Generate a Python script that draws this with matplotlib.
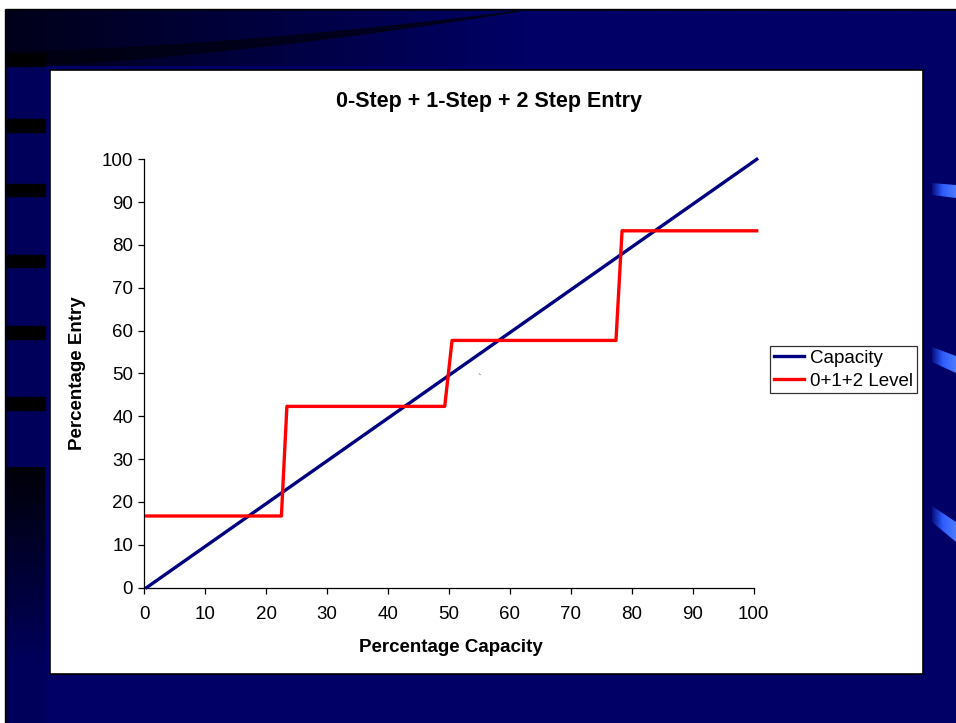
import numpy as np
import matplotlib

matplotlib.use("Agg")
import matplotlib.pyplot as plt
from matplotlib.colors import LinearSegmentedColormap
from matplotlib.patches import Polygon, Rectangle

plt.rcParams["font.family"] = ["Liberation Sans", "DejaVu Sans"]

# Values
capacity_x = [0.4, 100.5]
capacity_y = [0, 100]
level_x = [0.4, 22.5, 23.4, 49.3, 50.5, 77.4, 78.4, 100.5]
level_y = [16.7, 16.7, 42.3, 42.3, 57.7, 57.7, 83.3, 83.3]
x_ticks = list(range(0, 101, 10))
y_ticks = list(range(0, 101, 10))
series_names = ["Capacity", "0+1+2 Level"]

NAVY = "#000066"
W, H = 956, 723

fig = plt.figure(figsize=(W / 100, H / 100), dpi=100)
fig.patch.set_facecolor("white")

# --- slide background, drawn in pixel coordinates ---
bg = fig.add_axes([0, 0, 1, 1])
bg.set_xlim(0, W)
bg.set_ylim(H, 0)
bg.axis("off")

bg.add_patch(Rectangle((5, 9), W - 5, H - 9, color="black"))
bg.add_patch(Rectangle((7, 11), W - 7, H - 11, color=NAVY))

dark_to_navy = LinearSegmentedColormap.from_list("d2n", ["#00001a", NAVY])
ramp = np.clip(np.linspace(0, 1, 400) / 0.55, 0, 1).reshape(1, -1)
bg.imshow(ramp, extent=(7, W, 66, 11), cmap=dark_to_navy, aspect="auto",
          vmin=0, vmax=1, zorder=1)

# dark swoosh across the top band, running off the top edge
end = 520
sx = np.linspace(7, end, 80)
upper = 52 - 41 * (sx / end) ** 1.6
lower = 66 - 55 * (sx / end) ** 1.5
swoosh = np.vstack([np.column_stack([sx, upper]),
                    np.column_stack([sx[::-1], lower[::-1]])])
bg.add_patch(Polygon(swoosh, closed=True, color="#00000f", alpha=0.75, zorder=2))

# left column with black bars
bg.add_patch(Rectangle((7, 66), 38, H - 66, color="#00005a", zorder=2))
for y0, y1 in [(54, 66), (119, 132), (184, 196), (255, 267), (326, 339), (397, 410)]:
    bg.add_patch(Rectangle((7, y0), 38, y1 - y0, color="black", zorder=3))
fade = np.linspace(0, 1, 200).reshape(-1, 1)
black_to_navy = LinearSegmentedColormap.from_list("b2n", ["#000008", "#00005a"])
bg.imshow(fade, extent=(7, 45, 660, 467), cmap=black_to_navy, aspect="auto",
          vmin=0, vmax=1, zorder=3)

# light blue streaks on the right edge
streak_cmap = LinearSegmentedColormap.from_list("st", [NAVY, "#2e5cff", "#4d7cff"])
streak_ramp = np.linspace(0, 1, 100).reshape(1, -1)
for pts in [[(932, 183), (956, 185), (956, 198), (932, 195)],
            [(932, 347), (956, 356), (956, 373), (932, 362)],
            [(932, 506), (956, 522), (956, 542), (932, 522)]]:
    poly = Polygon(pts, closed=True, facecolor="none", edgecolor="none")
    bg.add_patch(poly)
    im = bg.imshow(streak_ramp, extent=(930, 956, 545, 180), cmap=streak_cmap,
                   aspect="auto", vmin=0, vmax=1, zorder=4)
    im.set_clip_path(poly)

# white chart area
bg.add_patch(Rectangle((50, 70), 873, 604, facecolor="white", edgecolor="black",
                       linewidth=1.2, zorder=5))

# --- the chart ---
ax = fig.add_axes([144.3 / W, 1 - 587.5 / H, 609.4 / W, 428.2 / H])
ax.set_facecolor("none")
ax.plot(capacity_x, capacity_y, color="#000080", linewidth=2.4,
        label=series_names[0], clip_on=False, zorder=3)
ax.plot(level_x, level_y, color="#ff0000", linewidth=2.4,
        label=series_names[1], clip_on=False, zorder=4)
ax.text(54.9, 48.6, "`", color="#555555", fontsize=8, ha="center", va="center")

ax.set_xlim(0, 100)
ax.set_ylim(0, 100)
ax.set_xticks(x_ticks)
ax.set_yticks(y_ticks)
for side in ("top", "right"):
    ax.spines[side].set_visible(False)
for side in ("left", "bottom"):
    ax.spines[side].set_linewidth(0.9)
ax.tick_params(axis="x", direction="out", length=4.5, width=0.9, pad=9, labelsize=13.5)
ax.tick_params(axis="y", direction="out", length=4, width=0.9, pad=4, labelsize=13.5)

fig.text(489 / W, 1 - 102 / H, "0-Step + 1-Step + 2 Step Entry",
         fontsize=15.5, fontweight="bold", ha="center", va="center")
fig.text(451 / W, 1 - 648 / H, "Percentage Capacity",
         fontsize=13.5, fontweight="bold", ha="center", va="center")
fig.text(77 / W, 1 - 373 / H, "Percentage Entry", rotation=90,
         fontsize=13.5, fontweight="bold", ha="center", va="center")

leg = ax.legend(loc="upper left", bbox_to_anchor=(770 / W, 1 - 346 / H),
                bbox_transform=fig.transFigure, fontsize=13.5, frameon=True,
                fancybox=False, edgecolor="black", borderpad=0.2,
                handlelength=1.6, handletextpad=0.35, labelspacing=0.3,
                borderaxespad=0)
leg.get_frame().set_linewidth(0.9)

fig.savefig("out.png", dpi=100, facecolor=fig.get_facecolor())
